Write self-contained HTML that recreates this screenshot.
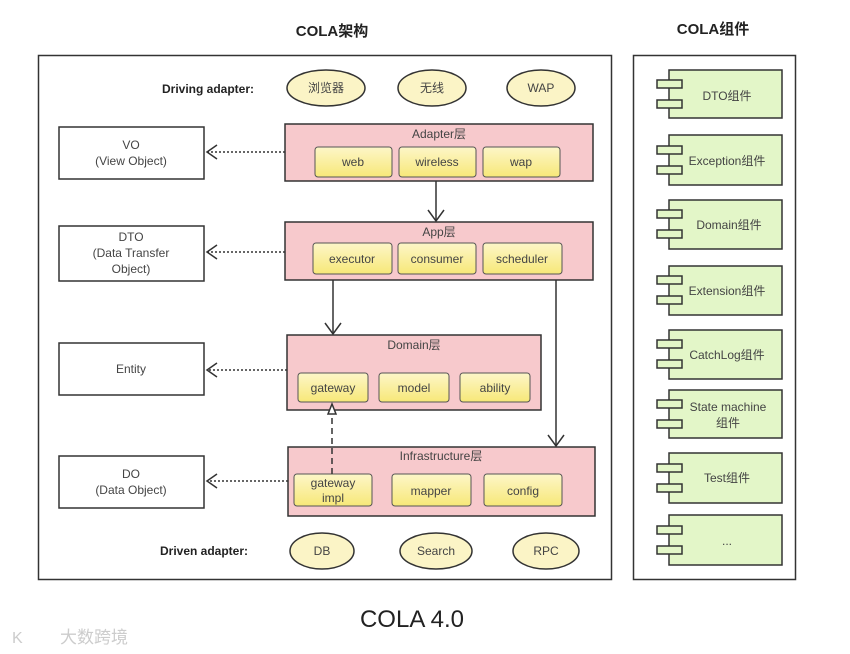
<!DOCTYPE html>
<html><head><meta charset="utf-8"><style>
html,body{margin:0;padding:0;background:#fff;}
svg{display:block;font-family:"Liberation Sans","Noto Sans CJK SC",sans-serif;}
</style></head><body>
<svg width="850" height="654" viewBox="0 0 850 654" xmlns="http://www.w3.org/2000/svg">
<defs>
<linearGradient id="yg" x1="0" y1="0" x2="0" y2="1"><stop offset="0" stop-color="#fdf6c8"/><stop offset="1" stop-color="#f7e878"/></linearGradient>
</defs>
<rect width="850" height="654" fill="#fff"/>
<text x="332" y="36" font-size="15" font-weight="bold" text-anchor="middle" fill="#222">COLA架构</text>
<text x="713" y="34" font-size="15" font-weight="bold" text-anchor="middle" fill="#222">COLA组件</text>
<rect x="38.5" y="55.5" width="573" height="524" fill="none" stroke="#333" stroke-width="1.5"/>
<rect x="633.5" y="55.5" width="162" height="524" fill="none" stroke="#333" stroke-width="1.5"/>

<g font-size="12" font-weight="bold" fill="#222" text-anchor="middle">
<text x="208" y="93">Driving adapter:</text>
<text x="204" y="555">Driven adapter:</text>
</g>

<g fill="#fbf4c6" stroke="#333" stroke-width="1.5">
<ellipse cx="326" cy="88" rx="39" ry="18"/><ellipse cx="432" cy="88" rx="34" ry="18"/><ellipse cx="541" cy="88" rx="34" ry="18"/>
<ellipse cx="322" cy="551" rx="32" ry="18"/><ellipse cx="436" cy="551" rx="36" ry="18"/><ellipse cx="546" cy="551" rx="33" ry="18"/>
</g>
<g font-size="12" fill="#444" text-anchor="middle">
<text x="326" y="92">浏览器</text><text x="432" y="92">无线</text><text x="541" y="92">WAP</text>
<text x="322" y="555">DB</text><text x="436" y="555">Search</text><text x="546" y="555">RPC</text>
</g>

<g fill="#f7c9cc" stroke="#333" stroke-width="1.5">
<rect x="285" y="124" width="308" height="57"/>
<rect x="285" y="222" width="308" height="58"/>
<rect x="287" y="335" width="254" height="75"/>
<rect x="288" y="447" width="307" height="69"/>
</g>
<g font-size="12" fill="#444" text-anchor="middle">
<text x="439" y="138">Adapter层</text>
<text x="439" y="236">App层</text>
<text x="414" y="349">Domain层</text>
<text x="441" y="460">Infrastructure层</text>
</g>

<g fill="url(#yg)" stroke="#555" stroke-width="1">
<rect x="315" y="147" width="77" height="30" rx="3"/><rect x="399" y="147" width="77" height="30" rx="3"/><rect x="483" y="147" width="77" height="30" rx="3"/>
<rect x="313" y="243" width="79" height="31" rx="3"/><rect x="398" y="243" width="78" height="31" rx="3"/><rect x="483" y="243" width="79" height="31" rx="3"/>
<rect x="298" y="373" width="70" height="29" rx="3"/><rect x="379" y="373" width="70" height="29" rx="3"/><rect x="460" y="373" width="70" height="29" rx="3"/>
<rect x="294" y="474" width="78" height="32" rx="3"/><rect x="392" y="474" width="79" height="32" rx="3"/><rect x="484" y="474" width="78" height="32" rx="3"/>
</g>
<g font-size="12" fill="#444" text-anchor="middle">
<text x="353" y="166">web</text><text x="437" y="166">wireless</text><text x="521" y="166">wap</text>
<text x="352" y="263">executor</text><text x="437" y="263">consumer</text><text x="522" y="263">scheduler</text>
<text x="333" y="392">gateway</text><text x="414" y="392">model</text><text x="495" y="392">ability</text>
<text x="333" y="487">gateway</text><text x="333" y="502">impl</text><text x="431" y="495">mapper</text><text x="523" y="495">config</text>
</g>

<g fill="#fff" stroke="#333" stroke-width="1.5">
<rect x="59" y="127" width="145" height="52"/>
<rect x="59" y="226" width="145" height="55"/>
<rect x="59" y="343" width="145" height="52"/>
<rect x="59" y="456" width="145" height="52"/>
</g>
<g font-size="12" fill="#444" text-anchor="middle">
<text x="131" y="149">VO</text><text x="131" y="165">(View Object)</text>
<text x="131" y="241">DTO</text><text x="131" y="257">(Data Transfer</text><text x="131" y="273">Object)</text>
<text x="131" y="373">Entity</text>
<text x="131" y="478">DO</text><text x="131" y="494">(Data Object)</text>
</g>

<g stroke="#333" stroke-width="1.5" fill="none">
<line x1="285" y1="152" x2="207" y2="152" stroke-dasharray="2,2"/>
<line x1="285" y1="252" x2="207" y2="252" stroke-dasharray="2,2"/>
<line x1="287" y1="370" x2="207" y2="370" stroke-dasharray="2,2"/>
<line x1="288" y1="481" x2="207" y2="481" stroke-dasharray="2,2"/>
<polyline points="217,145 207,152 217,159"/>
<polyline points="217,245 207,252 217,259"/>
<polyline points="217,363 207,370 217,377"/>
<polyline points="217,474 207,481 217,488"/>
<line x1="436" y1="181" x2="436" y2="221"/><polyline points="428,210 436,221 444,210"/>
<line x1="333" y1="280" x2="333" y2="334"/><polyline points="325,323 333,334 341,323"/>
<line x1="556" y1="280" x2="556" y2="446"/><polyline points="548,435 556,446 564,435"/>
<line x1="332" y1="474" x2="332" y2="414" stroke-dasharray="6,4"/>
<polygon points="332,404 328,414 336,414" fill="#fff"/>
</g>

<g stroke="#333" stroke-width="1.5">
<g fill="#e3f6c8">
<rect x="669" y="70" width="113" height="48"/><rect x="669" y="135" width="113" height="50"/>
<rect x="669" y="200" width="113" height="49"/><rect x="669" y="266" width="113" height="49"/>
<rect x="669" y="330" width="113" height="49"/><rect x="669" y="390" width="113" height="48"/>
<rect x="669" y="453" width="113" height="50"/><rect x="669" y="515" width="113" height="50"/>
</g>
<g fill="#e3f6c8">
<rect x="657" y="80" width="25" height="8"/><rect x="657" y="100" width="25" height="8"/>
<rect x="657" y="146" width="25" height="8"/><rect x="657" y="166" width="25" height="8"/>
<rect x="657" y="210" width="25" height="8"/><rect x="657" y="230" width="25" height="8"/>
<rect x="657" y="276" width="25" height="8"/><rect x="657" y="296" width="25" height="8"/>
<rect x="657" y="340" width="25" height="8"/><rect x="657" y="360" width="25" height="8"/>
<rect x="657" y="400" width="25" height="8"/><rect x="657" y="420" width="25" height="8"/>
<rect x="657" y="464" width="25" height="8"/><rect x="657" y="484" width="25" height="8"/>
<rect x="657" y="526" width="25" height="8"/><rect x="657" y="546" width="25" height="8"/>
</g>
</g>
<g font-size="12" fill="#444" text-anchor="middle">
<text x="727" y="100">DTO组件</text><text x="727" y="165">Exception组件</text>
<text x="729" y="229">Domain组件</text><text x="727" y="295">Extension组件</text>
<text x="727" y="359">CatchLog组件</text><text x="728" y="411">State machine</text><text x="728" y="427">组件</text>
<text x="727" y="482">Test组件</text><text x="727" y="545">...</text>
</g>

<text x="412" y="627" font-size="24" fill="#222" text-anchor="middle">COLA 4.0</text>
<text x="60" y="643" font-size="17" fill="#ccc">大数跨境</text>
<text x="12" y="643" font-size="16" fill="#ccc">K</text>
</svg>
</body></html>
